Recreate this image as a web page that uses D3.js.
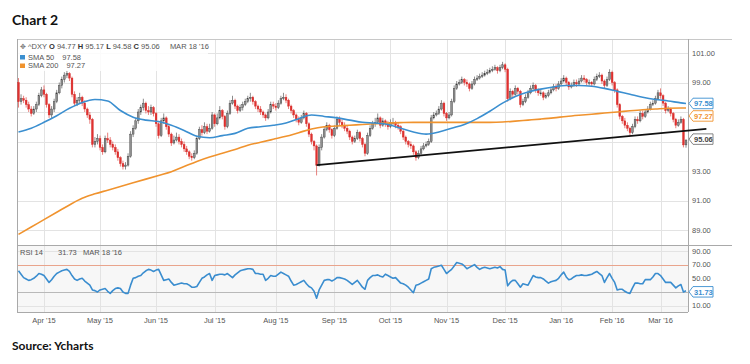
<!DOCTYPE html>
<html><head><meta charset="utf-8">
<script src="https://cdn.jsdelivr.net/npm/d3@7"></script>
<style>body{margin:0;background:#fff}svg{display:block}</style>
</head><body>
<svg id="c" width="750" height="364"></svg>
<script>
// ---------- DATA ----------
const firstOpen = 99.0;
const closes = [
97.7,97.9,97.8,97.5,97.2,96.9,97.2,97.5,98.1,98.5,
98.2,97.5,96.8,97.2,97.7,98.3,98.8,99.2,99.5,99.6,
99.3,98.2,97.6,97.8,98.0,97.6,97.2,96.8,96.5,94.8,
95.0,95.2,94.6,94.3,95.2,95.1,94.8,94.6,94.3,93.9,
93.5,93.3,93.4,94.0,95.5,95.9,96.4,97.0,97.3,97.6,
97.1,97.0,97.3,96.9,96.2,95.4,96.4,96.6,96.0,95.5,
94.9,95.1,95.3,95.0,94.8,94.5,94.3,94.0,93.9,94.2,
95.2,95.8,95.6,96.0,95.7,95.9,96.8,96.2,96.6,97.1,
96.7,96.0,96.9,97.6,97.8,97.4,97.1,97.3,97.5,97.7,
97.9,98.0,97.7,97.4,97.2,97.0,96.8,96.6,97.0,97.5,
97.4,97.3,97.6,97.9,98.0,97.8,97.4,97.1,96.8,96.5,
96.3,96.6,96.9,96.2,95.5,95.0,94.7,93.4,94.6,95.3,
95.8,96.1,95.8,95.4,95.9,96.5,96.3,96.1,95.9,95.7,
95.3,95.0,95.2,95.6,95.2,94.8,94.2,95.4,95.9,96.2,
96.3,96.6,96.1,96.4,96.2,96.0,96.3,96.3,96.1,96.0,
95.7,95.3,95.0,94.8,94.7,94.3,93.9,94.2,94.5,94.7,
94.8,95.0,96.6,96.8,96.9,97.2,97.6,96.9,96.6,96.8,
97.7,98.6,98.9,99.0,99.2,99.0,98.9,98.6,98.9,99.2,
99.3,99.4,99.5,99.6,99.7,99.8,99.9,100.0,99.8,100.0,
100.2,99.9,97.9,98.4,98.2,98.6,98.4,97.5,97.7,98.0,
98.3,98.6,98.8,98.5,98.3,98.3,98.0,98.1,98.3,98.5,
98.7,98.6,98.9,99.1,99.3,99.0,98.7,98.8,99.0,98.9,
99.1,99.3,99.2,99.0,99.0,98.9,99.2,99.4,99.5,99.1,
98.8,99.2,99.7,99.0,98.5,97.5,96.7,96.4,96.1,95.9,
95.6,96.0,96.5,96.4,96.9,96.7,97.0,97.2,97.5,97.6,
97.9,98.3,98.1,97.6,97.1,97.2,96.9,96.5,96.1,96.3,
96.5,94.77,95.06];
const highs = [
99.3,98.2,98.1,98.0,97.7,97.4,97.4,97.7,98.3,98.7,
98.8,98.3,97.6,97.4,97.9,98.5,99.0,99.4,99.7,99.8,
99.7,99.4,98.4,98.0,98.3,98.1,97.8,97.3,97.0,96.6,
95.3,95.5,95.4,94.8,95.4,95.6,95.3,95.0,94.8,94.5,
94.0,93.7,93.6,94.2,95.7,96.1,96.6,97.2,97.5,97.9,
97.7,97.4,97.5,97.4,97.0,96.3,96.6,96.9,96.7,96.2,
95.6,95.4,95.6,95.5,95.2,95.0,94.7,94.4,94.2,94.4,
95.4,96.0,96.1,96.3,96.2,96.2,97.0,96.9,96.9,97.4,
97.2,96.8,97.1,97.8,98.1,97.9,97.5,97.5,97.7,97.9,
98.1,98.3,98.1,97.8,97.5,97.4,97.1,96.9,97.2,97.7,
97.7,97.6,97.8,98.1,98.3,98.2,97.9,97.5,97.2,96.9,
96.7,96.8,97.1,97.0,96.3,95.6,95.1,94.8,94.8,95.5,
96.0,96.3,96.2,95.9,96.1,96.7,96.7,96.5,96.3,96.1,
95.8,95.4,95.4,95.8,95.7,95.3,94.9,95.6,96.1,96.4,
96.6,96.9,96.7,96.6,96.5,96.4,96.5,96.6,96.4,96.3,
96.1,95.8,95.4,95.1,95.0,94.8,94.4,94.4,94.7,94.9,
95.0,95.2,96.8,97.0,97.1,97.4,97.8,97.7,97.0,97.0,
97.9,98.8,99.1,99.2,99.4,99.3,99.2,99.0,99.1,99.4,
99.5,99.6,99.7,99.8,99.9,100.0,100.1,100.2,100.1,100.2,
100.4,100.3,100.0,98.6,98.5,98.8,98.7,98.5,97.9,98.2,
98.5,98.8,99.0,98.9,98.6,98.5,98.4,98.3,98.5,98.7,
98.9,98.9,99.1,99.3,99.5,99.4,99.1,99.0,99.2,99.2,
99.3,99.5,99.5,99.3,99.2,99.1,99.4,99.6,99.7,99.6,
99.2,99.4,99.9,99.8,99.1,98.6,97.6,96.8,96.6,96.3,
96.0,96.2,96.7,96.7,97.1,97.1,97.2,97.4,97.7,97.8,
98.1,98.5,98.6,98.2,97.7,97.4,97.3,97.0,96.6,96.5,
96.7,96.6,95.17];
const lows = [
97.3,97.5,97.6,97.3,97.0,96.7,96.8,97.0,97.4,98.0,
98.0,97.3,96.6,96.6,97.0,97.6,98.2,98.6,99.0,99.3,
99.1,98.0,97.4,97.4,97.6,97.4,97.0,96.6,96.2,94.6,
94.6,94.8,94.4,94.1,94.2,94.9,94.6,94.4,94.1,93.7,
93.3,93.1,93.1,93.3,93.9,95.3,95.8,96.2,96.8,97.1,
96.9,96.8,96.8,96.7,96.0,95.2,95.3,96.2,95.8,95.3,
94.7,94.8,95.0,94.8,94.6,94.3,94.1,93.8,93.7,93.8,
94.1,95.1,95.4,95.5,95.5,95.6,95.8,96.0,96.1,96.5,
96.5,95.8,95.9,96.8,97.5,97.2,96.9,97.0,97.1,97.4,
97.6,97.7,97.5,97.2,97.0,96.8,96.6,96.4,96.5,96.9,
97.2,97.1,97.2,97.5,97.8,97.6,97.2,96.9,96.6,96.3,
96.1,96.2,96.5,96.0,95.3,94.8,94.4,92.7,93.3,94.4,
95.2,95.7,95.6,95.2,95.3,95.8,96.1,95.9,95.7,95.5,
95.1,94.8,94.9,95.1,95.0,94.6,94.0,94.1,95.3,95.8,
96.0,96.2,95.9,96.0,96.0,95.8,95.9,96.1,95.9,95.8,
95.5,95.1,94.8,94.6,94.5,94.1,93.7,93.8,94.1,94.4,
94.6,94.7,94.9,96.5,96.7,96.8,97.1,96.7,96.4,96.5,
96.7,97.6,98.5,98.8,98.9,98.8,98.7,98.4,98.5,98.8,
99.1,99.2,99.3,99.4,99.5,99.6,99.7,99.8,99.6,99.7,
99.9,99.7,97.7,97.8,98.0,98.1,98.2,97.3,97.4,97.6,
97.9,98.2,98.5,98.3,98.1,98.1,97.8,97.9,98.0,98.2,
98.4,98.4,98.5,98.8,99.0,98.8,98.5,98.6,98.7,98.7,
98.8,99.0,99.0,98.8,98.8,98.7,98.8,99.1,99.3,98.9,
98.6,98.7,99.1,98.8,98.3,97.3,96.5,96.2,95.9,95.7,
95.4,95.5,95.9,96.2,96.3,96.5,96.6,96.9,97.1,97.4,
97.5,97.8,97.9,97.4,96.9,97.0,96.7,96.3,95.9,96.0,
96.2,94.6,94.58];
// SMA values sampled every 5 trading days, last value on the final day
const sma50 = [95.65,95.9,96.3,96.75,97.25,97.65,97.85,97.75,97.1,96.65,
96.45,96.35,96.1,95.75,95.35,95.25,95.4,95.55,95.9,96.0,
96.1,96.25,96.55,96.8,96.7,96.6,96.45,96.3,96.25,96.15,
95.9,95.65,95.5,95.65,95.9,96.15,96.55,97.05,97.6,98.05,
98.35,98.55,98.7,98.8,98.8,98.75,98.6,98.4,98.2,98.0,
97.85,97.75,97.62,97.58];
const sma200 = [88.7,89.2,89.7,90.2,90.7,91.15,91.45,91.7,91.95,92.2,
92.45,92.7,92.95,93.3,93.65,93.95,94.2,94.45,94.75,94.95,
95.15,95.35,95.6,95.85,96.0,96.05,96.1,96.15,96.2,96.25,
96.28,96.3,96.3,96.3,96.3,96.3,96.3,96.3,96.32,96.38,
96.45,96.52,96.6,96.7,96.78,96.85,96.93,97.0,97.08,97.15,
97.2,97.25,97.27,97.27];
const rsi = [
61,56,51,49,47,48,50,53,57,56,
54,49,44,48,53,57,59,61,62,63,
60,54,49,47,49,50,46,43,40,33,
32,30,33,34,35,31,28,32,35,36,
35,30,28,28,40,50,51,53,54,58,
61,63,62,60,62,63,55,47,48,49,
44,40,41,42,43,42,42,40,37,37,
38,44,50,52,55,57,47,54,55,56,
56,55,57,54,51,55,58,61,62,63,
64,64,63,57,57,56,56,47,50,54,
53,53,56,59,57,55,53,46,40,41,
43,45,47,42,38,36,31,21,33,40,
47,48,48,46,48,51,51,50,49,47,
44,41,44,47,42,37,34,47,51,54,
54,55,53,52,56,54,52,50,51,47,
43,42,40,37,33,29,40,41,43,45,
47,49,64,66,67,68,69,63,57,60,
63,68,73,72,71,68,64,66,68,70,
66,63,65,66,65,64,65,66,65,67,
63,62,39,44,47,47,42,37,42,41,
40,47,54,52,51,51,49,46,43,45,
46,47,50,55,59,52,48,49,52,54,
54,55,54,54,55,56,58,60,57,54,
44,51,57,50,44,33,34,34,31,29,
28,36,43,43,42,42,48,48,48,52,
57,57,54,49,44,44,44,40,36,39,
41,30,31.73];
const trendStart = {day: 117, value: 93.4};
const trendEnd = {day: 270, value: 95.85};
const monthLabels = ["Apr '15","May '15","Jun '15","Jul '15","Aug '15","Sep '15","Oct '15","Nov '15","Dec '15","Jan '16","Feb '16","Mar '16"];
const monthStartDay = [10,32,54,77,101,124,146,168,191,213,233,252];
const priceTicks = [101,99,97,95,93,91,89];
const rsiTicks = [90,70,50,10];
const last = {o:94.77,h:95.17,l:94.58,c:95.06,date:"MAR 18 '16",sma50:97.58,sma200:97.27,rsi:31.73};

// ---------- CHART ----------
const svg = d3.select('#c');
const FONT = "'Liberation Sans', Arial, sans-serif";
const L = 17, R = 688, T = 39, SEP = 245, B = 312, FR = 732;
const n = closes.length;
const x = d3.scaleLinear().domain([0, n-1]).range([18.5, 686]);
const yP = d3.scaleLinear().domain([89,101]).range([230,53]);
const yR = d3.scaleLinear().domain([10,90]).range([305.7,250.9]);
const opens = closes.map((c,i)=> i===0 ? firstOpen : closes[i-1]);
const smaDays = d3.range(0, 261, 5).concat([n-1]);

// title
svg.append('text').attr('x',12).attr('y',25).text('Chart 2')
  .attr('font-family',"Lato, 'Open Sans', sans-serif").attr('font-weight','bold').attr('font-size',14).attr('fill','#111');
svg.append('text').attr('x',12).attr('y',350).text('Source: Ycharts')
  .attr('font-family',"Lato, 'Open Sans', sans-serif").attr('font-weight','bold').attr('font-size',12).attr('fill','#111');

// panel backgrounds
svg.append('rect').attr('x',L).attr('y',T).attr('width',R-L).attr('height',SEP-T).attr('fill','#fff');
svg.append('rect').attr('x',L).attr('y',SEP).attr('width',R-L).attr('height',B-SEP).attr('fill','#f7f7f7');

const grid = svg.append('g').attr('stroke','#e3e3e3').attr('stroke-width',1);
grid.selectAll('.hp').data(priceTicks).join('line')
  .attr('x1',L).attr('x2',R).attr('y1',d=>Math.round(yP(d))+0.5).attr('y2',d=>Math.round(yP(d))+0.5);
grid.selectAll('.hr').data([90,10]).join('line')
  .attr('x1',L).attr('x2',R).attr('y1',d=>Math.round(yR(d))+0.5).attr('y2',d=>Math.round(yR(d))+0.5);
grid.selectAll('.v').data(monthStartDay).join('line')
  .attr('x1',d=>Math.round(x(d))+0.5).attr('x2',d=>Math.round(x(d))+0.5).attr('y1',T).attr('y2',B);
svg.append('line').attr('x1',L).attr('x2',R).attr('y1',Math.round(yR(70))+0.5).attr('y2',Math.round(yR(70))+0.5)
  .attr('stroke','#e9a48c').attr('stroke-width',1);
svg.append('line').attr('x1',L).attr('x2',R).attr('y1',Math.round(yR(30))+0.5).attr('y2',Math.round(yR(30))+0.5)
  .attr('stroke','#b9b9b9').attr('stroke-width',1);

// frame lines
const fr = svg.append('g').attr('stroke','#a9a9a9').attr('stroke-width',1);
fr.append('line').attr('x1',L).attr('x2',FR).attr('y1',T+0.5).attr('y2',T+0.5).attr('stroke','#c8c8c8');
fr.append('line').attr('x1',L).attr('x2',FR).attr('y1',SEP+0.5).attr('y2',SEP+0.5);
fr.append('line').attr('x1',L).attr('x2',R).attr('y1',B+0.5).attr('y2',B+0.5);
fr.append('line').attr('x1',L+0.5).attr('x2',L+0.5).attr('y1',T).attr('y2',B);
fr.append('line').attr('x1',R+0.5).attr('x2',R+0.5).attr('y1',T).attr('y2',B);

// candles
const cw = 1.8;
const cd = closes.map((c,i)=>({i,o:opens[i],c,h:highs[i],l:lows[i],up:c>=opens[i]}));
const cg = svg.append('g');
cg.selectAll('line').data(cd).join('line')
  .attr('x1',d=>x(d.i)).attr('x2',d=>x(d.i)).attr('y1',d=>yP(d.h)).attr('y2',d=>yP(d.l))
  .attr('stroke',d=>d.up?'#6e6e6e':'#e2605c').attr('stroke-width',0.8);
cg.selectAll('rect').data(cd).join('rect')
  .attr('x',d=>x(d.i)-cw/2).attr('width',cw)
  .attr('y',d=>yP(Math.max(d.o,d.c)))
  .attr('height',d=>Math.max(1,yP(Math.min(d.o,d.c))-yP(Math.max(d.o,d.c))))
  .attr('fill',d=>d.up?'#8f8f8f':'#e0312f')
  .attr('stroke',d=>d.up?'#3c3c3c':'#d42a28').attr('stroke-width',0.4);

// SMA lines
const smaLine = d3.line().x(d=>x(d[0])).y(d=>yP(d[1])).curve(d3.curveMonotoneX);
svg.append('path').datum(smaDays.map((d,k)=>[d,sma200[k]])).attr('d',smaLine)
  .attr('fill','none').attr('stroke','#f0932e').attr('stroke-width',1.6);
svg.append('path').datum(smaDays.map((d,k)=>[d,sma50[k]])).attr('d',smaLine)
  .attr('fill','none').attr('stroke','#3b8fd0').attr('stroke-width',1.6);

// trend line
svg.append('line').attr('x1',x(trendStart.day)).attr('y1',yP(trendStart.value))
  .attr('x2',x(trendEnd.day)).attr('y2',yP(trendEnd.value))
  .attr('stroke','#111').attr('stroke-width',1.8);

// RSI line
const rLine = d3.line().x((d,i)=>x(i)).y(d=>yR(d));
svg.append('path').datum(rsi).attr('d',rLine).attr('fill','none')
  .attr('stroke','#3a8dcf').attr('stroke-width',1.6).attr('stroke-linejoin','round');

// value tags (positions along the right axis)
const tags = [
  {y: yP(last.sma50), label: last.sma50.toFixed(2), color:'#3b8fd0', tcolor:'#3b8fd0'},
  {y: yP(last.sma50)+12.5, label: last.sma200.toFixed(2), color:'#f0932e', tcolor:'#f0932e'},
  {y: yP(last.c)-1.5, label: last.c.toFixed(2), color:'#777', tcolor:'#444'},
  {y: yR(last.rsi)+1, label: last.rsi.toFixed(2), color:'#3a8dcf', tcolor:'#3a8dcf'}
];

// axis labels (labels hidden behind value tags are skipped, as in the original)
const txt = (sel)=>sel.attr('font-family',FONT).attr('font-size',7.5).attr('fill','#555');
const free = yy => tags.every(t => Math.abs(t.y - yy) > 9);
svg.selectAll('.pl').data(priceTicks.filter(d=>free(yP(d)))).join('text').call(txt)
  .attr('x',692).attr('y',d=>yP(d)+2.7).text(d=>d.toFixed(2));
svg.selectAll('.rl').data(rsiTicks.filter(d=>free(yR(d)))).join('text').call(txt)
  .attr('x',692).attr('y',d=>yR(d)+2.7).text(d=>d.toFixed(2));
svg.selectAll('.ml').data(monthLabels).join('text').call(txt)
  .attr('x',(d,k)=>x(monthStartDay[k])).attr('y',323).attr('text-anchor','middle').text(d=>d);

tags.forEach(t=>{
  const x0 = 689, w = 24, h = 10.5, yc = t.y;
  svg.append('path').attr('d',`M${x0},${yc} L${x0+4},${yc-h/2} L${x0+w},${yc-h/2} L${x0+w},${yc+h/2} L${x0+4},${yc+h/2} Z`)
    .attr('fill','#fff').attr('stroke',t.color).attr('stroke-width',0.9);
  svg.append('text').attr('x',x0+5).attr('y',yc+2.7).text(t.label)
    .attr('font-family',FONT).attr('font-size',7.5).attr('font-weight','bold').attr('fill',t.tcolor);
});

// legend box
svg.append('rect').attr('x',L+1).attr('y',T+1).attr('width',190).attr('height',31).attr('fill','#fff').attr('opacity',0.85);
const lg = svg.append('text').attr('x',20).attr('y',48.5).attr('font-family',FONT).attr('font-size',7.5).attr('fill','#555');
lg.append('tspan').text('✥ ').attr('font-family','DejaVu Sans').attr('font-size',7).attr('fill','#777');
lg.append('tspan').text('^DXY ');
[['O',last.o],['H',last.h],['L',last.l],['C',last.c]].forEach(([k,v])=>{
  lg.append('tspan').text(k+' ').attr('font-weight','bold').attr('fill','#333');
  lg.append('tspan').text(v.toFixed(2)+' ');
});
lg.append('tspan').attr('dx',8).text(last.date);
svg.append('rect').attr('x',20).attr('y',55).attr('width',5).attr('height',4.5).attr('fill','#3b8fd0');
svg.append('text').attr('x',28).attr('y',59.5).call(txt).text('SMA 50').append('tspan').attr('dx',8).text(last.sma50.toFixed(2));
svg.append('rect').attr('x',20).attr('y',63.5).attr('width',5).attr('height',4.5).attr('fill','#f0932e');
svg.append('text').attr('x',28).attr('y',68).call(txt).text('SMA 200').append('tspan').attr('dx',8).text(last.sma200.toFixed(2));

// RSI header
svg.append('text').attr('x',20).attr('y',255).call(txt).text('RSI 14');
svg.append('text').attr('x',58).attr('y',255).call(txt).text(last.rsi.toFixed(2));
svg.append('text').attr('x',83).attr('y',255).call(txt).text(last.date);
</script>
</body></html>
